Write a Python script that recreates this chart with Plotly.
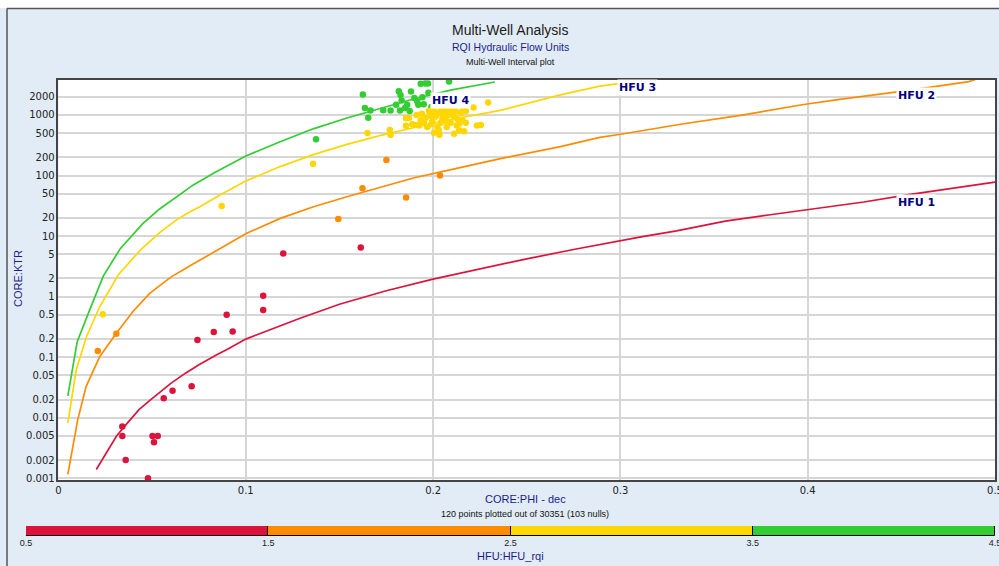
import math
import plotly.graph_objects as go

# ---------------- axis ticks ----------------
PHI_TICKS = [0, 0.1, 0.2, 0.3, 0.4, 0.5]
PHI_TICK_TEXT = ["0", "0.1", "0.2", "0.3", "0.4", "0.5"]
KTR_TICKS = [0.001, 0.002, 0.005, 0.01, 0.02, 0.05, 0.1, 0.2, 0.5, 1, 2, 5,
             10, 20, 50, 100, 200, 500, 1000, 2000]
KTR_TICK_TEXT = ["0.001", "0.002", "0.005", "0.01", "0.02", "0.05", "0.1", "0.2",
                 "0.5", "1", "2", "5", "10", "20", "50", "100", "200", "500",
                 "1000", "2000"]

# ---------------- HFU classes ----------------
HFU_NAMES = ["HFU 1", "HFU 2", "HFU 3", "HFU 4"]
HFU_COLORS = ["#DC143C", "#FF8C00", "#FFD700", "#32CD32"]
HFU_EDGES = [0.5, 1.5, 2.5, 3.5, 4.5]
HFU_EDGE_TEXT = ["0.5", "1.5", "2.5", "3.5", "4.5"]

# ---------------- HFU boundary lines (PHI, KTR) ----------------
hfu1_phi = [0.0202, 0.031, 0.037, 0.043, 0.048, 0.054, 0.06, 0.068, 0.075, 0.0845,
            0.09, 0.1, 0.115, 0.129, 0.15, 0.175, 0.2, 0.225, 0.25, 0.275, 0.3,
            0.311, 0.33, 0.356, 0.38, 0.401, 0.43, 0.454, 0.48, 0.5]
hfu1_k = [0.0014, 0.005, 0.0083, 0.0136, 0.0185, 0.0257, 0.037, 0.055, 0.075,
          0.11, 0.134, 0.199, 0.30, 0.44, 0.75, 1.25, 1.95, 2.9, 4.2, 6.0, 8.5,
          9.7, 12.2, 17.7, 22.5, 27.6, 36.5, 48.2, 63, 77.6]

hfu2_phi = [0.005, 0.0103, 0.0148, 0.022, 0.031, 0.04, 0.0487, 0.06, 0.07, 0.08,
            0.09, 0.1005, 0.1184, 0.1362, 0.154, 0.172, 0.19, 0.209, 0.236, 0.268,
            0.289, 0.301, 0.333, 0.365, 0.397, 0.418, 0.452, 0.486, 0.49]
hfu2_k = [0.00116, 0.0093, 0.033, 0.102, 0.25, 0.58, 1.13, 2.1, 3.2, 4.8, 7.2,
          11.1, 19.6, 30.5, 44.6, 65, 92, 124, 190, 300, 427, 485, 708, 995,
          1472, 1820, 2500, 3550, 3900]

hfu3_phi = [0.005, 0.0095, 0.015, 0.022, 0.032, 0.044, 0.054, 0.063, 0.07,
            0.0755, 0.086, 0.10, 0.118, 0.136, 0.154, 0.172, 0.19, 0.21, 0.236,
            0.268, 0.289, 0.303, 0.31]
hfu3_k = [0.0082, 0.062, 0.22, 0.68, 2.3, 6.0, 11.4, 18.5, 25, 30.5, 47, 81, 139,
          221, 327, 460, 620, 850, 1190, 2150, 3000, 3425, 3650]

hfu4_phi = [0.005, 0.010, 0.017, 0.024, 0.033, 0.045, 0.054, 0.065, 0.072, 0.083,
            0.10, 0.118, 0.136, 0.154, 0.172, 0.19, 0.21, 0.233]
hfu4_k = [0.023, 0.18, 0.64, 2.2, 6.2, 16, 28, 50, 70, 110, 210, 358, 590, 890,
          1265, 1850, 2600, 3500]

# ---------------- core samples by flow unit ----------------
red_phi = [0.12, 0.1614, 0.1093, 0.1093, 0.0898, 0.093, 0.0829, 0.0742, 0.0711,
           0.0609, 0.0562, 0.0341, 0.0341, 0.0502, 0.053, 0.051, 0.0359, 0.0478]
red_k = [5.15, 6.5, 1.03, 0.60, 0.50, 0.265, 0.26, 0.193, 0.033, 0.028, 0.021,
         0.0072, 0.0050, 0.0050, 0.0050, 0.00395, 0.0020, 0.001]

orange_phi = [0.021, 0.0309, 0.1494, 0.1623, 0.1751, 0.1856, 0.2037]
orange_k = [0.126, 0.243, 19.1, 61.8, 181, 43.5, 100]

green_phi = [0.1625, 0.1636, 0.1654, 0.1666, 0.1734, 0.1773, 0.1803, 0.1817,
             0.1826, 0.1823, 0.1832, 0.1862, 0.1875, 0.1882, 0.1916, 0.1934,
             0.1943, 0.1957, 0.1975, 0.1973, 0.1991, 0.2085, 0.1375, 0.1921,
             0.185, 0.19, 0.195]
green_k = [2170, 1300, 900, 1186, 1190, 1186, 1472, 2473, 2130, 1186, 1733, 1472,
           1159, 2440, 1670, 3260, 1968, 3300, 2317, 3300, 1349, 3560, 396, 1472,
           1300, 1900, 1500]

yellow_phi = [0.0237, 0.0871, 0.1359,
              0.165, 0.1769, 0.1773, 0.1855, 0.1871, 0.1912, 0.1905, 0.1951,
              0.1987, 0.1996, 0.2005, 0.2034, 0.2041, 0.2058, 0.2073, 0.2112,
              0.2126, 0.2139, 0.2148, 0.2166, 0.2175, 0.2216, 0.2234, 0.2255,
              0.2294, 0.1969, 0.1934, 0.2023, 0.208, 0.2103, 0.2094, 0.2014,
              0.2032, 0.213, 0.2157, 0.1987, 0.1889, 0.1925,
              0.1978, 0.2005, 0.2041, 0.2067, 0.2094, 0.2121, 0.2157, 0.2175,
              0.1855, 0.196, 0.205, 0.211, 0.199, 0.207, 0.214, 0.2, 0.208,
              0.203, 0.194]
yellow_k = [0.51, 31.3, 157,
            504, 563, 470, 664, 890, 1000, 680, 740,
            1080, 780, 510, 470, 745, 1030, 630, 490,
            670, 560, 1080, 540, 745, 1330, 670, 680,
            1600, 630, 820, 630, 1000, 1080, 745, 940,
            1080, 860, 820, 960, 700, 670,
            1160, 1160, 1160, 1160, 1160, 1160, 1160, 1160,
            890, 900, 870, 950, 700, 800, 720, 1250, 1300,
            560, 1050]

# label anchor points for each boundary line (PHI, KTR)
label_phi = [0.458, 0.458, 0.309, 0.2094]
label_k = [36.5, 2080, 2790, 1700]

PLOTTED_ROWS = 120
TOTAL_ROWS = 30351
NULL_ROWS = 103

fig = go.Figure()

boundary_lines = [(hfu1_phi, hfu1_k), (hfu2_phi, hfu2_k),
                  (hfu3_phi, hfu3_k), (hfu4_phi, hfu4_k)]
for (px, pk), col in zip(boundary_lines, HFU_COLORS):
    fig.add_trace(go.Scatter(x=px, y=pk, mode="lines",
                             line=dict(color=col, width=1.7),
                             hoverinfo="skip", showlegend=False))

sample_sets = [(red_phi, red_k, HFU_COLORS[0]),
               (orange_phi, orange_k, HFU_COLORS[1]),
               (green_phi, green_k, HFU_COLORS[3]),
               (yellow_phi, yellow_k, HFU_COLORS[2])]
for px, pk, col in sample_sets:
    fig.add_trace(go.Scatter(x=px, y=pk, mode="markers",
                             marker=dict(color=col, size=6.5, line=dict(width=0)),
                             showlegend=False))

# discrete colour key drawn as contiguous bars
fig.add_trace(go.Bar(x=[HFU_EDGES[i + 1] - HFU_EDGES[i] for i in range(4)],
                     base=HFU_EDGES[:4], y=[0, 0, 0, 0], orientation="h",
                     width=1, marker=dict(color=HFU_COLORS,
                                          line=dict(color="#000000", width=1)),
                     xaxis="x2", yaxis="y2", hoverinfo="skip", showlegend=False))

NAVY = "#1C1C8C"
LABEL_NAVY = "#000080"

fig.update_layout(
    width=999, height=566,
    margin=dict(l=26, r=4, t=80, b=30),
    paper_bgcolor="#E2ECF6",
    plot_bgcolor="#FFFFFF",
    font=dict(family="DejaVu Sans", size=10, color="#222222"),
    hovermode=False,
    bargap=0,
    xaxis=dict(domain=[0.0335, 1], range=[0, 0.5], tickvals=PHI_TICKS,
               ticktext=PHI_TICK_TEXT, showgrid=True, gridcolor="#D6D6D6",
               gridwidth=1.5, zeroline=False, showline=True, linecolor="#444444",
               linewidth=1.5, mirror=True, ticks="", tickfont=dict(size=10),
               ticklabeloverflow="allow", automargin=False, anchor="y"),
    yaxis=dict(domain=[0.1228, 1], type="log", range=[-3.028, 3.577],
               tickvals=KTR_TICKS, ticktext=KTR_TICK_TEXT, showgrid=True,
               gridcolor="#D6D6D6", gridwidth=1.5, zeroline=False, showline=True,
               linecolor="#444444", linewidth=1.5, mirror=True, ticks="",
               tickfont=dict(size=10), ticklabeloverflow="allow",
               automargin=False, anchor="x"),
    xaxis2=dict(domain=[0, 1], range=[HFU_EDGES[0], HFU_EDGES[-1]],
                tickvals=HFU_EDGES, ticktext=HFU_EDGE_TEXT, showgrid=False,
                zeroline=False, showline=False, ticks="", anchor="y2",
                ticklabeloverflow="allow", automargin=False,
                tickfont=dict(family="Liberation Sans", size=9, color="#222222")),
    yaxis2=dict(domain=[0, 0.0219], range=[-0.5, 0.5], visible=False,
                automargin=False, anchor="x2"),
)

ann = []
# headings
ann.append(dict(text="Multi-Well Analysis", x=0.4995, y=1.1096, xref="paper",
                yref="paper", showarrow=False, xanchor="center", yanchor="middle",
                font=dict(family="Liberation Sans", size=14, color="#1A1A1A")))
ann.append(dict(text="RQI Hydraulic Flow Units", x=0.4995, y=1.0724,
                xref="paper", yref="paper", showarrow=False, xanchor="center",
                yanchor="middle",
                font=dict(family="Liberation Sans", size=10.5, color=NAVY)))
ann.append(dict(text="Multi-Well Interval plot", x=0.4995, y=1.0395,
                xref="paper", yref="paper", showarrow=False, xanchor="center",
                yanchor="middle",
                font=dict(family="Liberation Sans", size=9, color="#111111")))
# axis titles and footer
ann.append(dict(text="CORE:PHI - dec", x=0.515, y=0.0811, xref="paper",
                yref="paper", showarrow=False, xanchor="center", yanchor="middle",
                font=dict(family="Liberation Sans", size=11, color=NAVY)))
ann.append(dict(text=f"{PLOTTED_ROWS} points plotted out of {TOTAL_ROWS} ({NULL_ROWS} nulls)",
                x=0.515, y=0.0482, xref="paper", yref="paper", showarrow=False,
                xanchor="center", yanchor="middle",
                font=dict(family="Liberation Sans", size=9, color="#111111")))
ann.append(dict(text="CORE:KTR", x=-0.0083, y=0.5658, xref="paper",
                yref="paper", showarrow=False, textangle=-90, xanchor="center",
                yanchor="middle",
                font=dict(family="Liberation Sans", size=11, color=NAVY)))
ann.append(dict(text="HFU:HFU_rqi", x=0.4995, y=-0.0439, xref="paper",
                yref="paper", showarrow=False, xanchor="center", yanchor="middle",
                font=dict(family="Liberation Sans", size=11, color=NAVY)))
# flow unit labels on the boundary lines
for name, lx, lk in zip(HFU_NAMES, label_phi, label_k):
    ann.append(dict(text=f"<b>{name}</b>", x=lx, y=math.log10(lk),
                    xref="x", yref="y", showarrow=False, bgcolor="#FFFFFF",
                    borderpad=1, xanchor="center", yanchor="middle",
                    font=dict(family="DejaVu Sans", size=11, color=LABEL_NAVY)))
fig.update_layout(annotations=ann)

# window frame: white strip at top and dark border
fig.add_shape(type="rect", xref="paper", yref="paper", x0=-0.03, x1=1.01,
              y0=1.1579, y1=1.18, fillcolor="#FFFFFF", line=dict(width=0),
              layer="below")
fig.add_shape(type="line", xref="paper", yref="paper", x0=-0.0196, x1=1.01,
              y0=1.1568, y1=1.1568, line=dict(color="#555555", width=1.5))
fig.add_shape(type="line", xref="paper", yref="paper", x0=-0.0196, x1=-0.0196,
              y0=-0.08, y1=1.1568, line=dict(color="#555555", width=1.5))

fig.write_html("out.html")
